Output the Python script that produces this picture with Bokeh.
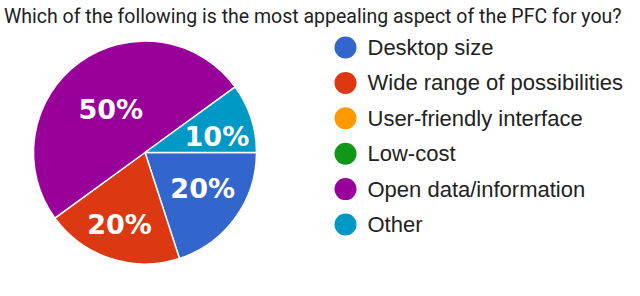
import numpy as np
from bokeh.plotting import figure
from bokeh.models import Range1d, ColumnDataSource
from bokeh.core.properties import value
from bokeh.embed import file_html
from bokeh.resources import INLINE

title_text = "Which of the following is the most appealing aspect of the PFC for you?"
categories = ["Desktop size", "Wide range of possibilities", "User-friendly interface",
              "Low-cost", "Open data/information", "Other"]
shares = [20, 20, 0, 0, 50, 10]
colors = ["#3366cc", "#dc3912", "#ff9900", "#109618", "#990099", "#0099c6"]

# layout (reference pixel coordinates, y measured downward from top)
W, H = 624, 280
CX, CY, R = 144.5, 152.0, 111.5
label_r = [0.61, 0.685, 0.6, 0.6, 0.49, 0.66]      # radial position of % labels
label_da = [4.0, -1.5, 0.0, 0.0, 2.7, -5.6]        # angular nudge (degrees)
LEG_X, LEG_Y0, LEG_DY = 345, 47, 35.4

def fy(y):
    return H - y

p = figure(width=W, height=H, output_backend="svg", toolbar_location=None,
           x_range=Range1d(0, W), y_range=Range1d(0, H),
           min_border=0, outline_line_color=None)
p.axis.visible = False
p.grid.visible = False
p.background_fill_color = "white"
p.border_fill_color = "white"

vals = np.array(shares, dtype=float)
frac = vals / vals.sum()
ends = np.cumsum(frac) * 2 * np.pi
starts = ends - frac * 2 * np.pi
keep = vals > 0

src = ColumnDataSource(dict(
    start=(-ends)[keep], end=(-starts)[keep],
    color=[c for c, k in zip(colors, keep) if k],
))
p.wedge(x=CX, y=fy(CY), radius=R, radius_units="screen",
        start_angle="start", end_angle="end", direction="anticlock",
        fill_color="color", line_color="white", line_width=1.5, source=src)

# percentage labels
mids = -(starts + ends) / 2
lx, ly, lt = [], [], []
for i in range(len(vals)):
    if not keep[i]:
        continue
    rr = R * label_r[i]
    a = mids[i] + np.deg2rad(label_da[i])
    lx.append(CX + rr * np.cos(a))
    ly.append(fy(CY) + rr * np.sin(a))
    lt.append(f"{int(round(frac[i] * 100))}%")
p.text(x=lx, y=ly, text=lt, text_align="center", text_baseline="middle",
       text_color="white", text_font=value("DejaVu Sans"), text_font_style="bold",
       text_font_size="27px")

# legend
n = len(categories)
ys = [fy(LEG_Y0 + i * LEG_DY) for i in range(n)]
p.scatter(x=[LEG_X] * n, y=ys, size=22, marker="circle", fill_color=colors,
          line_color=None)
p.text(x=[LEG_X + 22] * n, y=ys, text=categories, text_align="left",
       text_baseline="middle", text_color="#222222",
       text_font=value("Liberation Sans"), text_font_size="22px")

# title
p.text(x=[621], y=[fy(16)], text=[title_text], text_align="right",
       text_baseline="alphabetic", text_color="#212121",
       text_font=value("Roboto"), text_font_size="19.5px")

open("out.html", "w").write(file_html(p, INLINE))
